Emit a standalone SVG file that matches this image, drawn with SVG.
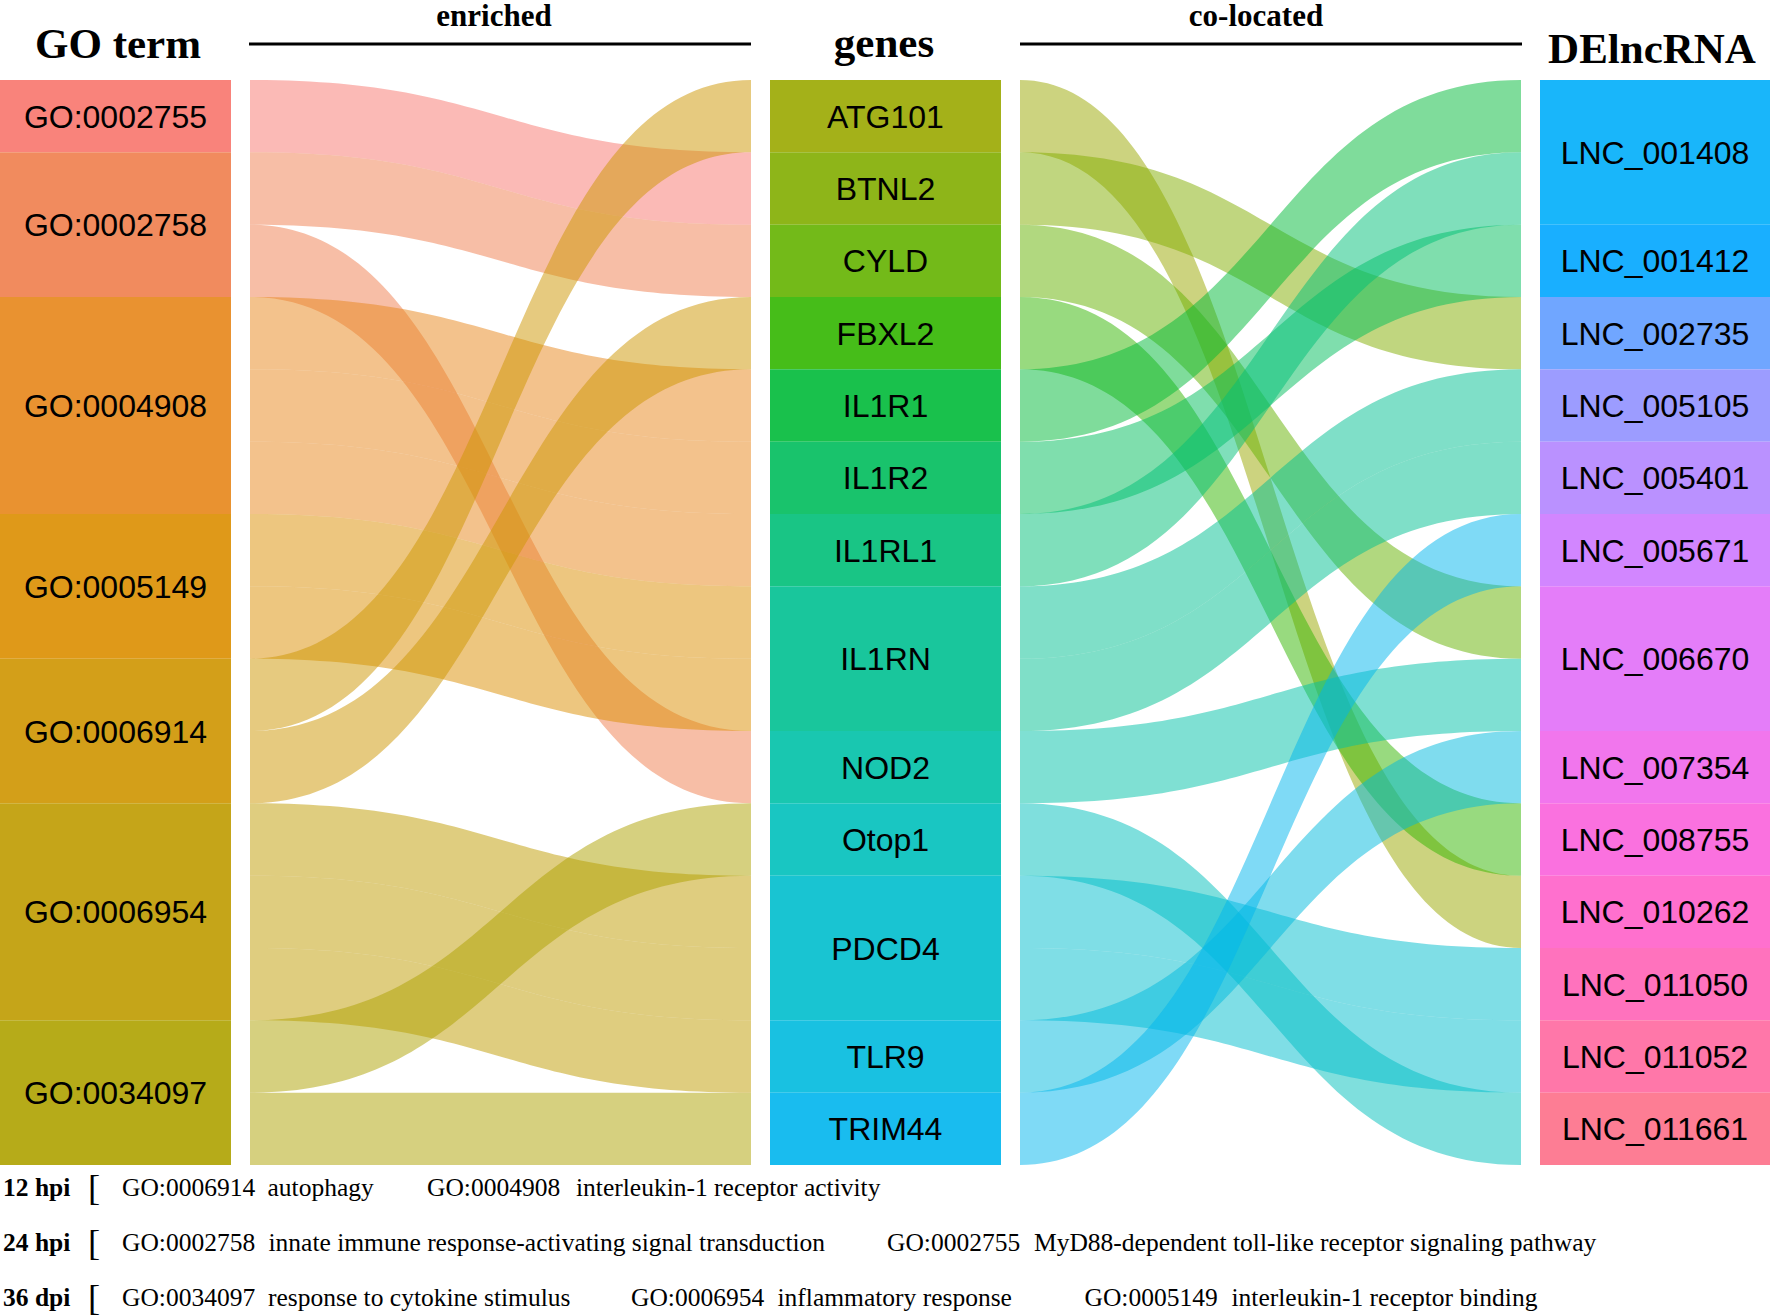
<svg xmlns="http://www.w3.org/2000/svg" width="1770" height="1316" viewBox="0 0 1770 1316">
<style>
.st{fill-opacity:0.9;stroke:none}
.fl{fill-opacity:0.5;stroke:none}
.lbl{font-family:"Liberation Sans",Arial,sans-serif;font-size:32px;text-anchor:middle;fill:#000}
.hdr{font-family:"Liberation Serif","Times New Roman",serif;font-weight:bold;font-size:43px;text-anchor:middle;fill:#000}
.sub{font-family:"Liberation Serif","Times New Roman",serif;font-weight:bold;font-size:31px;text-anchor:middle;fill:#000}
.leg{font-family:"Liberation Serif","Times New Roman",serif;font-size:25.5px;fill:#000}
.legb{font-family:"Liberation Serif","Times New Roman",serif;font-size:25.5px;font-weight:bold;fill:#000}
.brk{font-family:"Liberation Serif","Times New Roman",serif;font-size:36.5px;fill:#000}
.rule{stroke:#000;stroke-width:3}
</style>
<rect width="1770" height="1316" fill="#fff"/>
<g id="headers">
<text class="hdr" x="118" y="57.5">GO term</text>
<text class="sub" x="494" y="26">enriched</text>
<line class="rule" x1="249" y1="44" x2="751" y2="44"/>
<text class="hdr" x="884" y="57">genes</text>
<text class="sub" x="1256" y="26">co-located</text>
<line class="rule" x1="1020" y1="44" x2="1522" y2="44"/>
<text class="hdr" x="1652" y="62.5">DElncRNA</text>
</g>
<g id="connectors">
<path class="fl" fill="#F8766D" d="M250,80 C500.5,80 500.5,152.3 751,152.3 L751,224.7 C500.5,224.7 500.5,152.3 250,152.3Z"/>
<path class="fl" fill="#F07E4D" d="M250,152.3 C500.5,152.3 500.5,224.7 751,224.7 L751,297 C500.5,297 500.5,224.7 250,224.7Z"/>
<path class="fl" fill="#F07E4D" d="M250,224.7 C500.5,224.7 500.5,731 751,731 L751,803.3 C500.5,803.3 500.5,297 250,297Z"/>
<path class="fl" fill="#E7861A" d="M250,297 C500.5,297 500.5,369.3 751,369.3 L751,441.7 C500.5,441.7 500.5,369.3 250,369.3Z"/>
<path class="fl" fill="#E7861A" d="M250,369.3 C500.5,369.3 500.5,441.7 751,441.7 L751,514 C500.5,514 500.5,441.7 250,441.7Z"/>
<path class="fl" fill="#E7861A" d="M250,441.7 C500.5,441.7 500.5,514 751,514 L751,586.3 C500.5,586.3 500.5,514 250,514Z"/>
<path class="fl" fill="#DB8E00" d="M250,514 C500.5,514 500.5,586.3 751,586.3 L751,658.7 C500.5,658.7 500.5,586.3 250,586.3Z"/>
<path class="fl" fill="#DB8E00" d="M250,586.3 C500.5,586.3 500.5,658.7 751,658.7 L751,731 C500.5,731 500.5,658.7 250,658.7Z"/>
<path class="fl" fill="#CE9500" d="M250,658.7 C500.5,658.7 500.5,80 751,80 L751,152.3 C500.5,152.3 500.5,731 250,731Z"/>
<path class="fl" fill="#CE9500" d="M250,731 C500.5,731 500.5,297 751,297 L751,369.3 C500.5,369.3 500.5,803.3 250,803.3Z"/>
<path class="fl" fill="#BF9B00" d="M250,803.3 C500.5,803.3 500.5,875.7 751,875.7 L751,948 C500.5,948 500.5,875.7 250,875.7Z"/>
<path class="fl" fill="#BF9B00" d="M250,875.7 C500.5,875.7 500.5,948 751,948 L751,1020.3 C500.5,1020.3 500.5,948 250,948Z"/>
<path class="fl" fill="#BF9B00" d="M250,948 C500.5,948 500.5,1020.3 751,1020.3 L751,1092.7 C500.5,1092.7 500.5,1020.3 250,1020.3Z"/>
<path class="fl" fill="#AEA200" d="M250,1020.3 C500.5,1020.3 500.5,803.3 751,803.3 L751,875.7 C500.5,875.7 500.5,1092.7 250,1092.7Z"/>
<path class="fl" fill="#AEA200" d="M250,1092.7 L751,1092.7 L751,1165 L250,1165Z"/>
<path class="fl" fill="#9AA800" d="M1020,80 C1270.5,80 1270.5,875.7 1521,875.7 L1521,948 C1270.5,948 1270.5,152.3 1020,152.3Z"/>
<path class="fl" fill="#82AD00" d="M1020,152.3 C1270.5,152.3 1270.5,297 1521,297 L1521,369.3 C1270.5,369.3 1270.5,224.7 1020,224.7Z"/>
<path class="fl" fill="#64B200" d="M1020,224.7 C1270.5,224.7 1270.5,586.3 1521,586.3 L1521,658.7 C1270.5,658.7 1270.5,297 1020,297Z"/>
<path class="fl" fill="#32B600" d="M1020,297 C1270.5,297 1270.5,803.3 1521,803.3 L1521,875.7 C1270.5,875.7 1270.5,369.3 1020,369.3Z"/>
<path class="fl" fill="#00BA38" d="M1020,369.3 C1270.5,369.3 1270.5,80 1521,80 L1521,152.3 C1270.5,152.3 1270.5,441.7 1020,441.7Z"/>
<path class="fl" fill="#00BD5C" d="M1020,441.7 C1270.5,441.7 1270.5,224.7 1521,224.7 L1521,297 C1270.5,297 1270.5,514 1020,514Z"/>
<path class="fl" fill="#00BF78" d="M1020,514 C1270.5,514 1270.5,152.3 1521,152.3 L1521,224.7 C1270.5,224.7 1270.5,586.3 1020,586.3Z"/>
<path class="fl" fill="#00C091" d="M1020,586.3 C1270.5,586.3 1270.5,369.3 1521,369.3 L1521,441.7 C1270.5,441.7 1270.5,658.7 1020,658.7Z"/>
<path class="fl" fill="#00C091" d="M1020,658.7 C1270.5,658.7 1270.5,441.7 1521,441.7 L1521,514 C1270.5,514 1270.5,731 1020,731Z"/>
<path class="fl" fill="#00C1A7" d="M1020,731 C1270.5,731 1270.5,658.7 1521,658.7 L1521,731 C1270.5,731 1270.5,803.3 1020,803.3Z"/>
<path class="fl" fill="#00C0BB" d="M1020,803.3 C1270.5,803.3 1270.5,1092.7 1521,1092.7 L1521,1165 C1270.5,1165 1270.5,875.7 1020,875.7Z"/>
<path class="fl" fill="#00BECD" d="M1020,875.7 C1270.5,875.7 1270.5,948 1521,948 L1521,1020.3 C1270.5,1020.3 1270.5,948 1020,948Z"/>
<path class="fl" fill="#00BECD" d="M1020,948 C1270.5,948 1270.5,1020.3 1521,1020.3 L1521,1092.7 C1270.5,1092.7 1270.5,1020.3 1020,1020.3Z"/>
<path class="fl" fill="#00BADE" d="M1020,1020.3 C1270.5,1020.3 1270.5,731 1521,731 L1521,803.3 C1270.5,803.3 1270.5,1092.7 1020,1092.7Z"/>
<path class="fl" fill="#00B5ED" d="M1020,1092.7 C1270.5,1092.7 1270.5,514 1521,514 L1521,586.3 C1270.5,586.3 1270.5,1165 1020,1165Z"/>
</g>
<g id="go-terms">
<g id="go-0002755"><rect class="st" fill="#F8766D" x="0" y="80" width="231" height="72.3"/><text class="lbl" x="115.5" y="127.7">GO:0002755</text></g>
<g id="go-0002758"><rect class="st" fill="#F07E4D" x="0" y="152.3" width="231" height="144.7"/><text class="lbl" x="115.5" y="236.2">GO:0002758</text></g>
<g id="go-0004908"><rect class="st" fill="#E7861A" x="0" y="297" width="231" height="217"/><text class="lbl" x="115.5" y="417">GO:0004908</text></g>
<g id="go-0005149"><rect class="st" fill="#DB8E00" x="0" y="514" width="231" height="144.7"/><text class="lbl" x="115.5" y="597.8">GO:0005149</text></g>
<g id="go-0006914"><rect class="st" fill="#CE9500" x="0" y="658.7" width="231" height="144.6"/><text class="lbl" x="115.5" y="742.5">GO:0006914</text></g>
<g id="go-0006954"><rect class="st" fill="#BF9B00" x="0" y="803.3" width="231" height="217"/><text class="lbl" x="115.5" y="923.3">GO:0006954</text></g>
<g id="go-0034097"><rect class="st" fill="#AEA200" x="0" y="1020.3" width="231" height="144.7"/><text class="lbl" x="115.5" y="1104.2">GO:0034097</text></g>
</g>
<g id="genes">
<g id="gene-ATG101"><rect class="st" fill="#9AA800" x="770" y="80" width="231" height="72.3"/><text class="lbl" x="885.5" y="127.7">ATG101</text></g>
<g id="gene-BTNL2"><rect class="st" fill="#82AD00" x="770" y="152.3" width="231" height="72.4"/><text class="lbl" x="885.5" y="200">BTNL2</text></g>
<g id="gene-CYLD"><rect class="st" fill="#64B200" x="770" y="224.7" width="231" height="72.3"/><text class="lbl" x="885.5" y="272.3">CYLD</text></g>
<g id="gene-FBXL2"><rect class="st" fill="#32B600" x="770" y="297" width="231" height="72.3"/><text class="lbl" x="885.5" y="344.7">FBXL2</text></g>
<g id="gene-IL1R1"><rect class="st" fill="#00BA38" x="770" y="369.3" width="231" height="72.4"/><text class="lbl" x="885.5" y="417">IL1R1</text></g>
<g id="gene-IL1R2"><rect class="st" fill="#00BD5C" x="770" y="441.7" width="231" height="72.3"/><text class="lbl" x="885.5" y="489.3">IL1R2</text></g>
<g id="gene-IL1RL1"><rect class="st" fill="#00BF78" x="770" y="514" width="231" height="72.3"/><text class="lbl" x="885.5" y="561.7">IL1RL1</text></g>
<g id="gene-IL1RN"><rect class="st" fill="#00C091" x="770" y="586.3" width="231" height="144.7"/><text class="lbl" x="885.5" y="670.2">IL1RN</text></g>
<g id="gene-NOD2"><rect class="st" fill="#00C1A7" x="770" y="731" width="231" height="72.3"/><text class="lbl" x="885.5" y="778.7">NOD2</text></g>
<g id="gene-Otop1"><rect class="st" fill="#00C0BB" x="770" y="803.3" width="231" height="72.4"/><text class="lbl" x="885.5" y="851">Otop1</text></g>
<g id="gene-PDCD4"><rect class="st" fill="#00BECD" x="770" y="875.7" width="231" height="144.6"/><text class="lbl" x="885.5" y="959.5">PDCD4</text></g>
<g id="gene-TLR9"><rect class="st" fill="#00BADE" x="770" y="1020.3" width="231" height="72.4"/><text class="lbl" x="885.5" y="1068">TLR9</text></g>
<g id="gene-TRIM44"><rect class="st" fill="#00B5ED" x="770" y="1092.7" width="231" height="72.3"/><text class="lbl" x="885.5" y="1140.3">TRIM44</text></g>
</g>
<g id="delncrna">
<g id="lnc-001408"><rect class="st" fill="#00AEF9" x="1540" y="80" width="230" height="144.7"/><text class="lbl" x="1655" y="163.8">LNC_001408</text></g>
<g id="lnc-001412"><rect class="st" fill="#00A6FF" x="1540" y="224.7" width="230" height="72.3"/><text class="lbl" x="1655" y="272.3">LNC_001412</text></g>
<g id="lnc-002735"><rect class="st" fill="#619CFF" x="1540" y="297" width="230" height="72.3"/><text class="lbl" x="1655" y="344.7">LNC_002735</text></g>
<g id="lnc-005105"><rect class="st" fill="#9191FF" x="1540" y="369.3" width="230" height="72.4"/><text class="lbl" x="1655" y="417">LNC_005105</text></g>
<g id="lnc-005401"><rect class="st" fill="#B385FF" x="1540" y="441.7" width="230" height="72.3"/><text class="lbl" x="1655" y="489.3">LNC_005401</text></g>
<g id="lnc-005671"><rect class="st" fill="#CD79FF" x="1540" y="514" width="230" height="72.3"/><text class="lbl" x="1655" y="561.7">LNC_005671</text></g>
<g id="lnc-006670"><rect class="st" fill="#E16FF8" x="1540" y="586.3" width="230" height="144.7"/><text class="lbl" x="1655" y="670.2">LNC_006670</text></g>
<g id="lnc-007354"><rect class="st" fill="#EF67EB" x="1540" y="731" width="230" height="72.3"/><text class="lbl" x="1655" y="778.7">LNC_007354</text></g>
<g id="lnc-008755"><rect class="st" fill="#F962DB" x="1540" y="803.3" width="230" height="72.4"/><text class="lbl" x="1655" y="851">LNC_008755</text></g>
<g id="lnc-010262"><rect class="st" fill="#FF61C9" x="1540" y="875.7" width="230" height="72.3"/><text class="lbl" x="1655" y="923.3">LNC_010262</text></g>
<g id="lnc-011050"><rect class="st" fill="#FF63B6" x="1540" y="948" width="230" height="72.3"/><text class="lbl" x="1655" y="995.7">LNC_011050</text></g>
<g id="lnc-011052"><rect class="st" fill="#FF68A0" x="1540" y="1020.3" width="230" height="72.4"/><text class="lbl" x="1655" y="1068">LNC_011052</text></g>
<g id="lnc-011661"><rect class="st" fill="#FD6F88" x="1540" y="1092.7" width="230" height="72.3"/><text class="lbl" x="1655" y="1140.3">LNC_011661</text></g>
</g>
<g id="legend">
<text class="legb" x="3" y="1196">12 hpi</text>
<text class="brk" x="88" y="1200">[</text>
<text class="leg" x="122" y="1196">GO:0006914</text>
<text class="leg" x="267.5" y="1196">autophagy</text>
<text class="leg" x="427" y="1196">GO:0004908</text>
<text class="leg" x="576" y="1196">interleukin-1 receptor activity</text>
<text class="legb" x="3" y="1251">24 hpi</text>
<text class="brk" x="88" y="1255">[</text>
<text class="leg" x="122" y="1251">GO:0002758</text>
<text class="leg" x="268.5" y="1251">innate immune response-activating signal transduction</text>
<text class="leg" x="887" y="1251">GO:0002755</text>
<text class="leg" x="1034" y="1251">MyD88-dependent toll-like receptor signaling pathway</text>
<text class="legb" x="3" y="1306">36 dpi</text>
<text class="brk" x="88" y="1310">[</text>
<text class="leg" x="122" y="1306">GO:0034097</text>
<text class="leg" x="268" y="1306">response to cytokine stimulus</text>
<text class="leg" x="631" y="1306">GO:0006954</text>
<text class="leg" x="777.5" y="1306">inflammatory response</text>
<text class="leg" x="1084.5" y="1306">GO:0005149</text>
<text class="leg" x="1231.5" y="1306">interleukin-1 receptor binding</text>
</g>
</svg>
